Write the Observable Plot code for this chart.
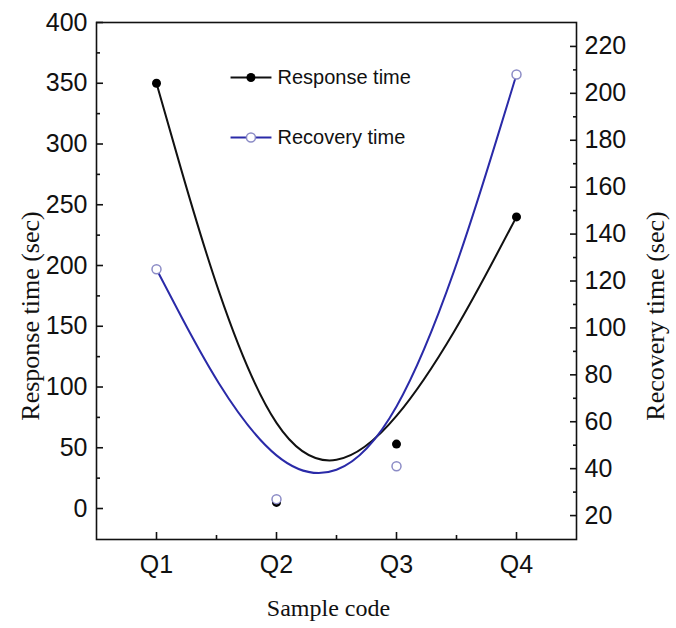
<!DOCTYPE html>
<html><head><meta charset="utf-8">
<script src="https://cdn.jsdelivr.net/npm/d3@7"></script>
<script src="https://cdn.jsdelivr.net/npm/@observablehq/plot@0.6"></script>
<style>
body{margin:0;background:#fff;}
#chart{position:relative;width:676px;height:628px;background:#fff;}
#chart svg{position:absolute;left:0;top:0;}
</style></head><body><div id="chart"></div>
<script>
// ---- data ----
const samples = ["Q1", "Q2", "Q3", "Q4"];
const sampleIndex = [1, 2, 3, 4];
const responseTime = [350, 5, 53, 240];
const recoveryTime = [125, 27, 41, 208];
const responseTicks = [0, 50, 100, 150, 200, 250, 300, 350, 400];
const responseMinorTicks = [25, 75, 125, 175, 225, 275, 325, 375];
const recoveryTicks = [20, 40, 60, 80, 100, 120, 140, 160, 180, 200, 220];
const recoveryMinorTicks = [30, 50, 70, 90, 110, 130, 150, 170, 190, 210];
const xMinorTicks = [1.5, 2.5, 3.5];
const seriesNames = ["Response time", "Recovery time"];
const axisTitles = ["Response time (sec)", "Recovery time (sec)", "Sample code"];

const responseData = sampleIndex.map((x, i) => ({x, y: responseTime[i]}));
const recoveryData = sampleIndex.map((x, i) => ({x, y: recoveryTime[i]}));

// ---- styles ----
const SANS = "'Liberation Sans',Arial,sans-serif";
const SERIF = "'Liberation Serif','Times New Roman',serif";
const BLUE = "#2a2aa8";
const OPEN = "#8c8cc6";

const base = {
  width: 676, height: 628,
  marginTop: 22, marginRight: 100, marginBottom: 89, marginLeft: 96,
  style: {background: "transparent", color: "#111", fontFamily: SANS, fontSize: "25px", overflow: "visible"}
};

// legend position (data coords of left plot)
const LEG = {x1: 1.617, x2: 1.958, xd: 1.787, xt: 2.008, y1: 354.7, y2: 305.3};

const p1 = Plot.plot({
  ...base,
  x: {domain: [0.5, 4.5]},
  y: {domain: [-25.5, 400]},
  marks: [
    Plot.frame({stroke: "#111", strokeWidth: 1.6}),
    Plot.axisY(responseTicks, {anchor: "left", tickSize: -7, tickPadding: 16, strokeWidth: 1.6, label: null, fontSize: 25, fontFamily: SANS}),
    Plot.axisY(responseMinorTicks, {anchor: "left", tickSize: -4, tickFormat: () => "", strokeWidth: 1.6, label: null}),
    Plot.axisX(sampleIndex, {anchor: "bottom", tickSize: -7, tickPadding: 23, strokeWidth: 1.6, tickFormat: d => samples[d - 1], label: null, fontSize: 25, fontFamily: SANS}),
    Plot.axisX(xMinorTicks, {anchor: "bottom", tickSize: -4, tickFormat: () => "", strokeWidth: 1.6, label: null}),
    Plot.line(responseData, {x: "x", y: "y", curve: "basis", stroke: "#111", strokeWidth: 2}),
    Plot.dot(responseData, {x: "x", y: "y", r: 4.5, fill: "#000", stroke: "none"}),
    // legend
    Plot.link([seriesNames[0]], {x1: LEG.x1, x2: LEG.x2, y1: LEG.y1, y2: LEG.y1, stroke: "#111", strokeWidth: 2}),
    Plot.dot([seriesNames[0]], {x: LEG.xd, y: LEG.y1, r: 4.5, fill: "#000", stroke: "none"}),
    Plot.text([seriesNames[0]], {x: LEG.xt, y: LEG.y1, text: d => d, textAnchor: "start", fontSize: 20, fontFamily: SANS, fill: "#111"}),
    Plot.link([seriesNames[1]], {x1: LEG.x1, x2: LEG.x2, y1: LEG.y2, y2: LEG.y2, stroke: BLUE, strokeWidth: 2}),
    Plot.dot([seriesNames[1]], {x: LEG.xd, y: LEG.y2, r: 4.5, fill: "#fff", stroke: OPEN, strokeWidth: 1.5}),
    Plot.text([seriesNames[1]], {x: LEG.xt, y: LEG.y2, text: d => d, textAnchor: "start", fontSize: 20, fontFamily: SANS, fill: "#111"}),
    // axis titles
    Plot.text([axisTitles[0]], {frameAnchor: "left", dx: -66, dy: 35, rotate: -90, textAnchor: "middle", text: d => d, fontSize: 26, fontFamily: SERIF, fill: "#111"}),
    Plot.text([axisTitles[2]], {frameAnchor: "bottom", dx: -8, dy: 76, textAnchor: "middle", text: d => d, fontSize: 24, fontFamily: SERIF, fill: "#111"})
  ]
});

const p2 = Plot.plot({
  ...base,
  x: {domain: [0.5, 4.5], axis: null},
  y: {domain: [9.8, 230.2]},
  marks: [
    Plot.axisY(recoveryTicks, {anchor: "right", tickSize: -7, tickPadding: 15, strokeWidth: 1.6, label: null, fontSize: 25, fontFamily: SANS}),
    Plot.axisY(recoveryMinorTicks, {anchor: "right", tickSize: -4, tickFormat: () => "", strokeWidth: 1.6, label: null}),
    Plot.line(recoveryData, {x: "x", y: "y", curve: "basis", stroke: BLUE, strokeWidth: 2}),
    Plot.dot(recoveryData, {x: "x", y: "y", r: 4.5, fill: "#fff", stroke: OPEN, strokeWidth: 1.5}),
    Plot.text([axisTitles[1]], {frameAnchor: "right", dx: 79, dy: 35, rotate: -90, textAnchor: "middle", text: d => d, fontSize: 26, fontFamily: SERIF, fill: "#111"})
  ]
});

const chart = document.getElementById("chart");
chart.appendChild(p1);
chart.appendChild(p2);
</script>
</body></html>
